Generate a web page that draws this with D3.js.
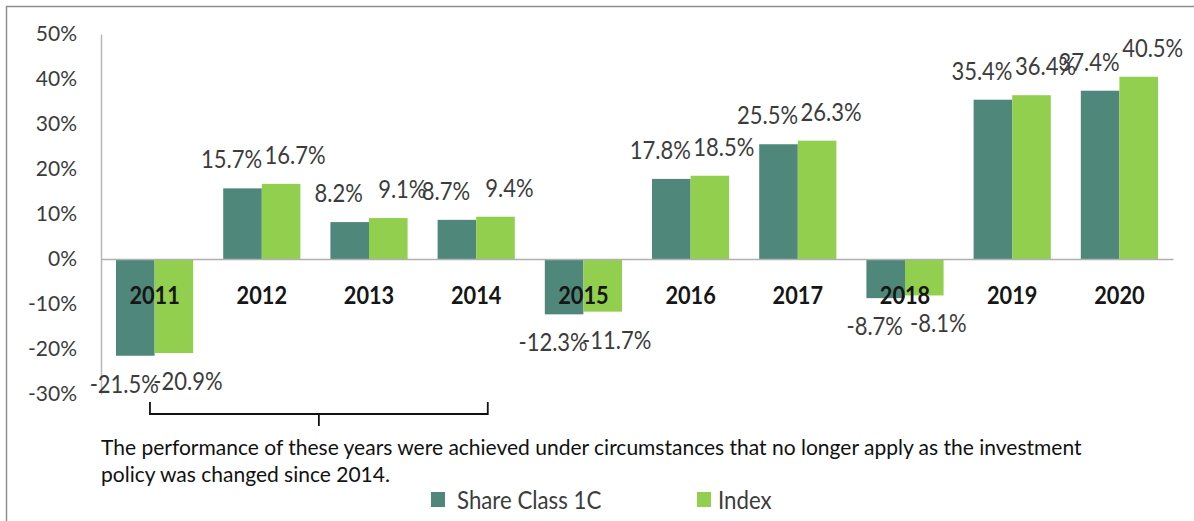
<!DOCTYPE html>
<html>
<head>
<meta charset="utf-8">
<script src="https://cdn.jsdelivr.net/npm/d3@7"></script>
<style>
  body { margin: 0; background: #fff; }
  svg { display: block; font-family: Lato, "Open Sans", sans-serif; }
</style>
</head>
<body>
<svg width="1194" height="521"></svg>
<script>
// chart data
const years = ['2011', '2012', '2013', '2014', '2015', '2016', '2017', '2018', '2019', '2020'];
const seriesNames = ['Share Class 1C', 'Index'];
const shareClass = [-21.5, 15.7, 8.2, 8.7, -12.3, 17.8, 25.5, -8.7, 35.4, 37.4];
const indexValues = [-20.9, 16.7, 9.1, 9.4, -11.7, 18.5, 26.3, -8.1, 36.4, 40.5];
const yTicks = [-30, -20, -10, 0, 10, 20, 30, 40, 50];
const bracketYears = ['2011', '2014'];
const footnoteLines = [
  'The performance of these years were achieved under circumstances that no longer apply as the investment',
  'policy was changed since 2014.'
];

const colors = { 'Share Class 1C': '#4f887a', 'Index': '#92cf4f' };

function drawChart() {
  const svg = d3.select('svg');

  const area = { left: 101, right: 1173, top: 34, bottom: 394 };

  // outer frame (cut by the picture on the right and bottom)
  svg.append('rect')
    .attr('x', 6.5).attr('y', 6.5)
    .attr('width', 1400).attr('height', 800)
    .attr('fill', 'none')
    .attr('stroke', '#8f8f8f')
    .attr('stroke-width', 1.5);

  const scX = d3.scaleBand()
    .domain(years)
    .range([area.left, area.right])
    .paddingInner(0.28)
    .paddingOuter(0.14);

  const scSub = d3.scaleBand()
    .domain(seriesNames)
    .range([0, scX.bandwidth()]);

  const scY = d3.scaleLinear()
    .domain([d3.min(yTicks), d3.max(yTicks)])
    .range([area.bottom, area.top]);

  const data = years.map((yr, i) => ({
    year: yr,
    values: [
      { name: seriesNames[0], value: shareClass[i] },
      { name: seriesNames[1], value: indexValues[i] }
    ]
  }));

  // y axis
  const axisY = svg.append('g')
    .attr('transform', `translate(${area.left}, 0)`)
    .call(d3.axisLeft(scY).tickValues(yTicks).tickSize(0).tickPadding(24).tickFormat(d => d + '%'));
  axisY.select('.domain').attr('stroke', '#b8b8b8').attr('stroke-width', 1.5);
  axisY.selectAll('text')
    .attr('font-family', 'Lato, sans-serif')
    .attr('font-size', 21)
    .attr('fill', '#3c3c3c');

  // bars
  const groups = svg.selectAll('.year')
    .data(data)
    .enter()
    .append('g')
    .attr('class', 'year')
    .attr('transform', d => `translate(${scX(d.year)}, 0)`);

  groups.selectAll('rect')
    .data(d => d.values)
    .enter()
    .append('rect')
    .attr('x', d => scSub(d.name))
    .attr('width', scSub.bandwidth())
    .attr('y', d => scY(Math.max(0, d.value)))
    .attr('height', d => Math.abs(scY(d.value) - scY(0)))
    .attr('fill', d => colors[d.name]);

  // x axis with year labels (a bit condensed, like in the original)
  const axisX = svg.append('g')
    .attr('transform', `translate(0, ${scY(0)})`)
    .call(d3.axisBottom(scX).tickSize(0));
  axisX.select('.domain').attr('stroke', '#b0b0b0').attr('stroke-width', 1.5);
  axisX.selectAll('text')
    .attr('y', 45)
    .attr('dy', 0)
    .attr('transform', 'scale(0.87, 1)')
    .attr('font-family', 'Lato, sans-serif')
    .attr('font-weight', 'bold')
    .attr('font-size', 25)
    .attr('fill', '#161616');

  // data labels, slightly condensed
  groups.selectAll('.lbl')
    .data(d => d.values)
    .enter()
    .append('text')
    .attr('class', 'lbl')
    .attr('transform', d => {
      const lx = scSub(d.name) + scSub.bandwidth() / 2 + (d.name === seriesNames[0] ? -11 : 14);
      const ly = d.value >= 0 ? scY(d.value) - 20 : scY(d.value) + 37;
      return `translate(${lx}, ${ly}) scale(0.88, 1)`;
    })
    .attr('text-anchor', 'middle')
    .attr('font-size', 25)
    .attr('fill', '#3c3c3c')
    .text(d => d.value.toFixed(1) + '%');

  // bracket under the first years
  const bx1 = scX(bracketYears[0]) + scX.bandwidth() * 0.44;
  const bx2 = scX(bracketYears[1]) + scX.bandwidth() * 0.65;
  const bTop = 402, bLine = 414, bTick = 426;
  svg.append('path')
    .attr('d', `M${bx1},${bTop} V${bLine} H${bx2} V${bTop} M${(bx1 + bx2) / 2},${bLine} V${bTick}`)
    .attr('fill', 'none')
    .attr('stroke', '#111')
    .attr('stroke-width', 1.8);

  // footnote
  svg.selectAll('.note')
    .data(footnoteLines)
    .enter()
    .append('text')
    .attr('class', 'note')
    .attr('x', area.left)
    .attr('y', (d, i) => 455 + i * 27)
    .attr('font-size', 21)
    .attr('fill', '#111')
    .text(d => d);

  // legend
  const legendX = [431, 697];
  const legend = svg.selectAll('.legend')
    .data(seriesNames)
    .enter()
    .append('g')
    .attr('class', 'legend')
    .attr('transform', (d, i) => `translate(${legendX[i]}, 492)`);

  legend.append('rect')
    .attr('width', 14)
    .attr('height', 15)
    .attr('fill', d => colors[d]);

  legend.append('text')
    .attr('transform', (d, i) => `translate(${i === 0 ? 26 : 21}, 17) scale(0.89, 1)`)
    .attr('font-size', 25)
    .attr('fill', '#3c3c3c')
    .text(d => d);
}

drawChart();
</script>
</body>
</html>
